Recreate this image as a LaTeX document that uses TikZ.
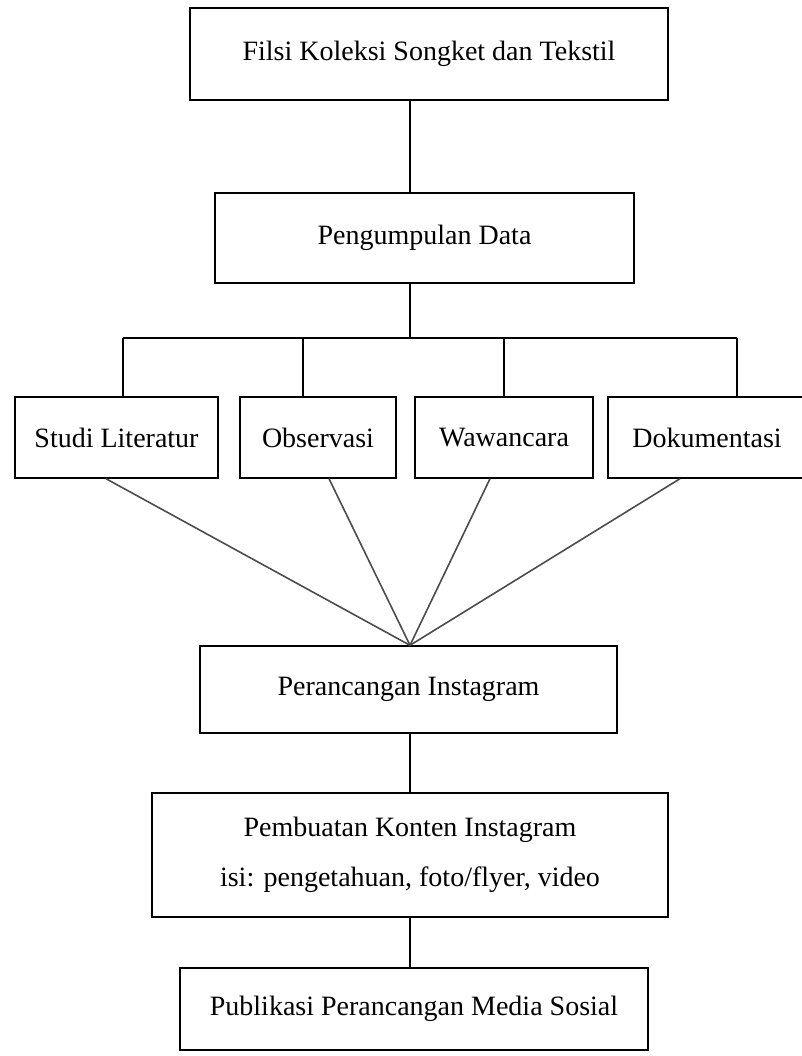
\documentclass[tikz,border=0pt]{standalone}
\usepackage{fontspec}
\setmainfont{Liberation Serif}
\usetikzlibrary{calc}
\tikzstyle{kotak}=[rectangle,draw,line width=1.4pt,inner sep=0pt,align=center,font=\fontsize{28}{50}\selectfont]
\tikzstyle{garis} = [draw,line width=1.2pt]
\tikzstyle{miring} = [draw,line width=1.6pt,black!70]

\begin{document}
\begin{tikzpicture}[x=1pt,y=-1pt]

\path[use as bounding box,clip] (0,0) rectangle (802,1056);

    \node[kotak,minimum width=478,minimum height=92] (judul) at (429,54) {Filsi Koleksi Songket dan Tekstil};
    \node[kotak,minimum width=419,minimum height=90] (kumpul) at (424.5,238) {Pengumpulan Data};

    \foreach \pos/ \w/ \name/ \teks in {{(116.5,437.5)/203/studi/Studi Literatur}, {(318,437.5)/156/obs/Observasi},
        {(504,437.5)/178/waw/Wawancara}, {(707,437.5)/198/dok/Dokumentasi}}
        \node[kotak,minimum width=\w,minimum height=81] (\name) at \pos {\teks};

    \node[kotak,minimum width=417,minimum height=87] (rancang) at (408.5,689.5) {Perancangan Instagram};
    \node[kotak,minimum width=516,minimum height=124] (konten) at (410,855) {Pembuatan Konten Instagram\\isi: pengetahuan, foto/flyer, video};
    \node[kotak,minimum width=468,minimum height=82] (publik) at (414,1009) {Publikasi Perancangan Media Sosial};

    \coordinate (spine) at (410,0);
    \coordinate (cabang) at (410,338);

    \path[garis] (judul.south -| spine) -- (kumpul.north -| spine);
    \path[garis] (kumpul.south -| spine) -- (cabang);
    \path[garis] (123,338) -- (737,338);

    \foreach \name/ \x in {studi/123, obs/303, waw/504, dok/737}
        \path[garis] (\x,338) -- (\name.north -| \x,0);

    \foreach \name/ \x in {studi/106, obs/329, waw/490, dok/680}
        \path[miring] (\name.south -| \x,0) -- (rancang.north -| spine);

    \path[garis] (rancang.south -| spine) -- (konten.north -| spine);
    \path[garis] (konten.south -| spine) -- (publik.north -| spine);

\end{tikzpicture}
\end{document}
